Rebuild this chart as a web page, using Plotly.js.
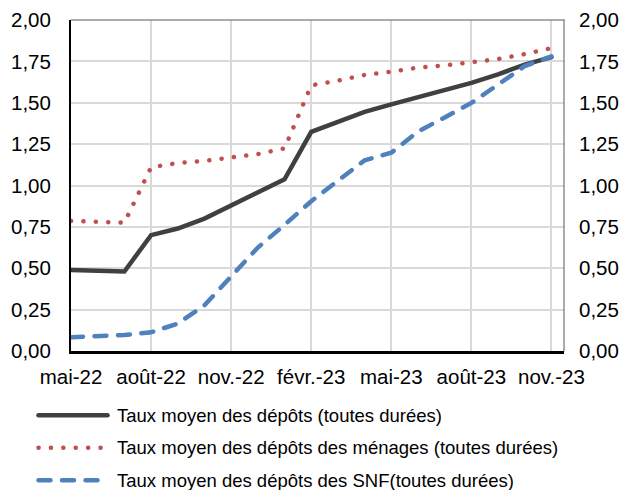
<!DOCTYPE html>
<html>
<head>
<meta charset="utf-8">
<script src="https://cdn.plot.ly/plotly-3.0.1.min.js"></script>
<style>
  html, body { margin: 0; padding: 0; background: #fff; }
  #chart { width: 627px; height: 490px; }
  .js-line { stroke-linecap: round; }
  .shapelayer path { stroke-linecap: round; }
</style>
</head>
<body>
<div id="chart"></div>
<script>
// Months (category axis)
const months = ['mai-22','juin-22','juil.-22','août-22','sept.-22','oct.-22','nov.-22','déc.-22',
  'janv.-23','févr.-23','mars-23','avr.-23','mai-23','juin-23','juil.-23','août-23','sept.-23','oct.-23','nov.-23'];
const tickLabels = ['mai-22','août-22','nov.-22','févr.-23','mai-23','août-23','nov.-23'];
const yTicks = [0, 0.25, 0.5, 0.75, 1, 1.25, 1.5, 1.75, 2];

// Series values (%)
const tauxMoyen = [0.49, 0.485, 0.48, 0.70, 0.74, 0.80, 0.877, 0.955, 1.037, 1.324, 1.385, 1.445, 1.49,
  1.533, 1.577, 1.62, 1.672, 1.73, 1.776];
const tauxMenages = [0.786, 0.782, 0.775, 1.11, 1.136, 1.149, 1.168, 1.19, 1.224, 1.605, 1.634, 1.668, 1.688,
  1.712, 1.726, 1.746, 1.764, 1.794, 1.83];
const tauxSNF = [0.083, 0.087, 0.097, 0.113, 0.166, 0.276, 0.455, 0.625, 0.762, 0.905, 1.029, 1.152, 1.198,
  1.326, 1.411, 1.499, 1.61, 1.722, 1.78];

const seriesNames = ['Taux moyen des dépôts (toutes durées)',
  'Taux moyen des dépôts des ménages (toutes durées)',
  'Taux moyen des dépôts des SNF(toutes durées)'];
const seriesColors = ['#404040', '#C0504D', '#4F81BD'];
const seriesDash = ['solid', '0.1px,12.3px', '12px,11.5px'];
const seriesData = [tauxMoyen, tauxMenages, tauxSNF];

const FONT = 'Liberation Sans, Arial, sans-serif';

const traces = seriesData.map((d, i) => ({
  x: months, y: d, type: 'scatter', mode: 'lines', name: seriesNames[i],
  line: { color: seriesColors[i], width: 4.5, dash: seriesDash[i] },
  hoverinfo: 'skip', showlegend: false
}));
// invisible trace to activate right axis
traces.push({ x: months, y: tauxMoyen, yaxis: 'y2', type: 'scatter', mode: 'lines',
  line: { width: 0 }, opacity: 0, hoverinfo: 'skip', showlegend: false });

// custom legend
const L = 71, R = 564, T = 19.7, B = 351.5;
const px2x = p => (p - L) / (R - L);
const py2y = p => (B - p) / (B - T);
const legendRows = [416, 448.5, 481];
const shapes = [
  { type: 'line', xref: 'paper', yref: 'paper', x0: 0, x1: 1, y0: 1, y1: 1, line: { color: '#595959', width: 1 } },
  { type: 'line', xref: 'paper', yref: 'paper', x0: 1, x1: 1, y0: 0, y1: 1, line: { color: '#595959', width: 1 } }
];
const annotations = [];
seriesNames.forEach((n, i) => {
  shapes.push({ type: 'line', xref: 'paper', yref: 'paper', x0: px2x(38.5), x1: px2x(107.5),
    y0: py2y(legendRows[i]), y1: py2y(legendRows[i]),
    line: { color: seriesColors[i], width: 4.5, dash: seriesDash[i] } });
  annotations.push({ xref: 'paper', yref: 'paper', x: px2x(115), y: py2y(legendRows[i]),
    xanchor: 'left', yanchor: 'middle', text: n, showarrow: false,
    font: { family: FONT, size: 18.5, color: '#000' } });
});

const yAxisCommon = {
  range: [0, 2], tickvals: yTicks, tickformat: '.2f', ticks: '',
  tickfont: { family: FONT, size: 20.5, color: '#000' }, zeroline: false, fixedrange: true
};

const layout = {
  width: 627, height: 490,
  margin: { l: L, r: 627 - R, t: T, b: 490 - B },
  paper_bgcolor: '#fff', plot_bgcolor: '#fff',
  separators: ', ',
  showlegend: false,
  font: { family: FONT, color: '#000' },
  xaxis: {
    type: 'category', range: [0, 18.47], tickmode: 'array', tickvals: tickLabels, ticktext: tickLabels,
    ticks: '', showgrid: true, gridcolor: '#D9D9D9', gridwidth: 2,
    showline: true, linecolor: '#000', linewidth: 2.5, zeroline: false,
    tickfont: { family: FONT, size: 20.5, color: '#000' }, ticklabelstandoff: 6, fixedrange: true
  },
  yaxis: Object.assign({}, yAxisCommon, {
    showgrid: true, gridcolor: '#D9D9D9', gridwidth: 2,
    showline: true, linecolor: '#000', linewidth: 2, ticklabelstandoff: 14
  }),
  yaxis2: Object.assign({}, yAxisCommon, {
    overlaying: 'y', side: 'right', showgrid: false, showline: false, ticklabelstandoff: 14
  }),
  shapes: shapes,
  annotations: annotations
};

Plotly.newPlot('chart', traces, layout, { staticPlot: true, displayModeBar: false });
</script>
</body>
</html>
